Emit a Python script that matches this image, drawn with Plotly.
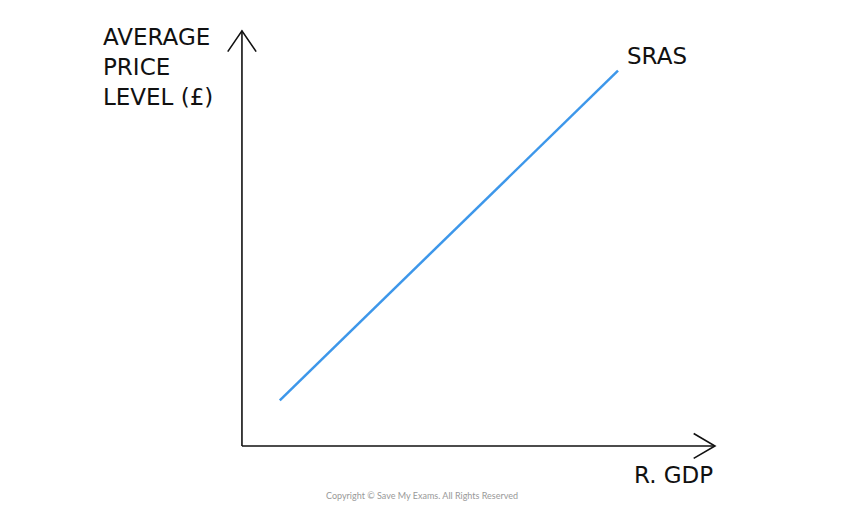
import plotly.graph_objects as go

# data (axis units: origin at 0,0)
sras_gdp = [0.8, 7.95]
sras_price = [1.1, 9.04]
x_axis_end = 10.0
y_axis_end = 10.0

fig = go.Figure()
ax_col = "#111111"
fig.add_trace(go.Scatter(x=[0, x_axis_end], y=[0, 0], mode="lines", line=dict(color=ax_col, width=1.6), hoverinfo="skip"))
fig.add_trace(go.Scatter(x=[0, 0], y=[0, y_axis_end], mode="lines", line=dict(color=ax_col, width=1.6), hoverinfo="skip"))
fig.add_trace(go.Scatter(x=[x_axis_end-0.45, x_axis_end, x_axis_end-0.45], y=[0.3, 0, -0.3], mode="lines", line=dict(color=ax_col, width=1.6), hoverinfo="skip"))
fig.add_trace(go.Scatter(x=[-0.3, 0, 0.3], y=[y_axis_end-0.5, y_axis_end, y_axis_end-0.5], mode="lines", line=dict(color=ax_col, width=1.6), hoverinfo="skip"))
fig.add_trace(go.Scatter(x=sras_gdp, y=sras_price, mode="lines", line=dict(color="#3d97ea", width=2.5), hoverinfo="skip"))

fnt = dict(family="DejaVu Sans, sans-serif", size=23, color="#111111")
fig.add_annotation(x=8.1, y=9.4, text="SRAS", showarrow=False, xanchor="left", yanchor="middle", font=fnt)
fig.add_annotation(x=10.0, y=-0.7, text="R. GDP", showarrow=False, xanchor="right", yanchor="middle", font=fnt)
fig.add_annotation(x=-2.98, y=10.22, text="AVERAGE<br>PRICE<br>LEVEL (£)", showarrow=False, xanchor="left", yanchor="top", align="left", font=fnt)
fig.add_annotation(x=3.8, y=-1.2, text="Copyright © Save My Exams. All Rights Reserved", showarrow=False, xanchor="center", yanchor="middle", font=dict(family="Lato, sans-serif", size=9, color="#999999"))

fig.update_layout(width=864, height=511, margin=dict(l=0, r=0, t=0, b=0),
                  paper_bgcolor="white", plot_bgcolor="white", showlegend=False)
fig.update_xaxes(range=[-4.946, 13.32], visible=False)
fig.update_yaxes(range=[-1.76, 10.55], visible=False)
fig.write_html("out.html")
